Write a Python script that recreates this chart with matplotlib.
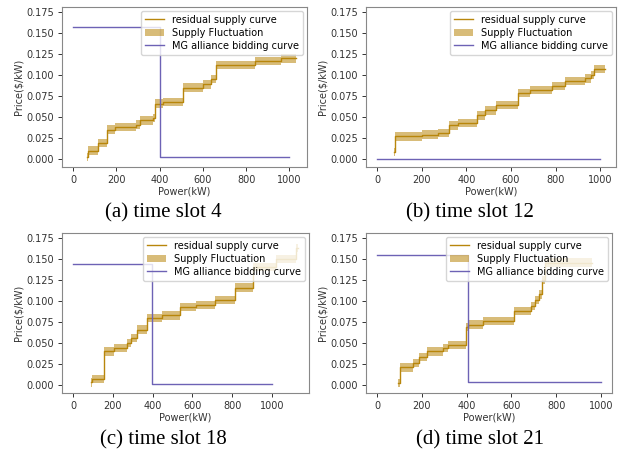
import numpy as np
import matplotlib.pyplot as plt

# residual supply curves (step points) for each time slot
a_x = [65, 70, 114, 158, 193, 289, 307, 368, 379, 414, 510, 600, 639, 660, 840, 962, 1030]
a_y = [0.002, 0.010, 0.019, 0.035, 0.038, 0.041, 0.046, 0.049, 0.066, 0.068, 0.085, 0.089, 0.095, 0.112, 0.117, 0.120, 0.120]

b_x = [76, 80, 202, 272, 320, 362, 447, 481, 534, 631, 683, 783, 843, 933, 960, 972, 1020]
b_y = [0.008, 0.027, 0.029, 0.031, 0.040, 0.043, 0.052, 0.058, 0.064, 0.079, 0.082, 0.087, 0.093, 0.096, 0.100, 0.107, 0.107]

c_x = [88, 92, 157, 207, 270, 292, 320, 370, 448, 537, 617, 712, 812, 903, 1020, 1122, 1130]
c_y = [0.003, 0.007, 0.040, 0.044, 0.050, 0.056, 0.066, 0.080, 0.083, 0.093, 0.095, 0.101, 0.116, 0.141, 0.150, 0.163, 0.163]

d_x = [92, 104, 162, 189, 223, 293, 315, 397, 408, 472, 610, 688, 705, 725, 735, 750, 960]
d_y = [0.002, 0.021, 0.026, 0.033, 0.040, 0.044, 0.048, 0.069, 0.072, 0.076, 0.088, 0.094, 0.101, 0.108, 0.125, 0.146, 0.146]

# supply fluctuation half-width
fluct = [0.005, 0.005, 0.005, 0.005]

# MG alliance bidding curves: price level, quantity where it drops, low price
mg_high = [0.157, 0.0, 0.144, 0.155]
mg_q = [400, 0, 395, 405]
mg_low = [0.002, 0.0, 0.001, 0.003]
mg_max = 1000

captions = ["(a) time slot 4", "(b) time slot 12", "(c) time slot 18", "(d) time slot 21"]

sx = [a_x, b_x, c_x, d_x]
sy = [a_y, b_y, c_y, d_y]

W, H = 628, 454
fig = plt.figure(figsize=(W / 100, H / 100), dpi=100)

# axes boxes in pixels: left, top, right, bottom
boxes = [(62, 7, 307, 167), (366, 7, 616, 167), (62, 233, 309, 393), (366, 233, 612, 393)]
cap_pos = [(163, 213), (470, 213), (163, 440), (480, 440)]

gold = '#b8860b'
purple = '#6d62b5'

for i in range(4):
    l, t, r, b = boxes[i]
    ax = fig.add_axes([l / W, 1 - b / H, (r - l) / W, (b - t) / H])
    x = np.array(sx[i])
    y = np.array(sy[i])
    ln, = ax.step(x, y, where='post', color=gold, lw=1.0, label='residual supply curve')
    fb = ax.fill_between(x, y - fluct[i], y + fluct[i], step='post', color=gold, alpha=0.55,
                         lw=0, label='Supply Fluctuation')
    if mg_q[i] > 0:
        mx = [0, mg_q[i], mg_q[i], mg_max]
        my = [mg_high[i], mg_high[i], mg_low[i], mg_low[i]]
    else:
        mx = [0, mg_max]
        my = [mg_high[i], mg_high[i]]
    mg, = ax.plot(mx, my, color=purple, lw=1.0, label='MG alliance bidding curve')
    ax.set_ylim(-0.0096, 0.1812)
    ax.set_yticks(np.arange(0, 0.176, 0.025))
    ax.set_xticks([0, 200, 400, 600, 800, 1000])
    ax.tick_params(labelsize=7, colors='#333333', length=3, width=0.7, pad=2.5)
    for s in ax.spines.values():
        s.set_color('#888888')
        s.set_linewidth(0.8)
    ax.set_xlabel('Power(kW)', fontsize=7, color='#333333', labelpad=1)
    ax.set_ylabel('Price($/kW)', fontsize=7, color='#333333', labelpad=2)
    ax.legend(handles=[ln, fb, mg], loc='upper right', fontsize=7, borderaxespad=0.4,
              handlelength=2.0, labelspacing=0.3)
    cx, cy = cap_pos[i]
    fig.text(cx / W, 1 - cy / H, captions[i], ha='center', va='center',
             family='Liberation Serif', fontsize=15)

fig.savefig('out.png', dpi=100)
